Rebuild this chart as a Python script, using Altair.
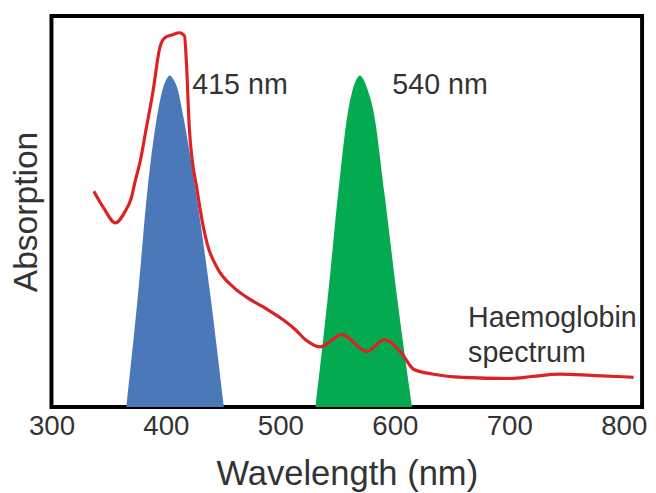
import altair as alt
import pandas as pd

# Blue band (415 nm light source)
blue_wl = [365.4, 375.7, 383.5, 392.9, 397.2, 400.5, 403.3, 406.5, 410.2, 414.5, 426.5, 438.6, 450.6]
blue_ab = [0.0, 0.291, 0.544, 0.754, 0.813, 0.838, 0.848, 0.838, 0.813, 0.754, 0.544, 0.291, 0.0]

# Green band (540 nm light source)
green_wl = [530.6, 541.8, 550.4, 559.0, 563.3, 566.5, 569.4, 572.5, 576.0, 581.5, 591.0, 601.5, 615.0]
green_ab = [0.0, 0.291, 0.544, 0.754, 0.813, 0.838, 0.848, 0.838, 0.813, 0.754, 0.544, 0.291, 0.0]

# Haemoglobin spectrum
hb_wl = [337.0, 345.6, 355.9, 364.5, 369.7, 373.1, 377.5, 382.6, 388.6, 394.7, 399.0,
         405.9, 411.9, 416.2, 417.9, 420.5, 427.4, 436.0, 444.6, 459.2, 470.4, 485.0,
         504.8, 513.4, 522.0, 534.9, 553.9, 575.4, 590.9, 605.5, 616.7, 633.9, 659.7,
         701.0, 720.0, 744.1, 771.6, 808.6]
hb_ab = [0.552, 0.509, 0.471, 0.501, 0.534, 0.577, 0.628, 0.709, 0.805, 0.919, 0.944,
         0.952, 0.957, 0.949, 0.881, 0.711, 0.552, 0.418, 0.357, 0.306, 0.281, 0.256,
         0.218, 0.197, 0.172, 0.154, 0.185, 0.142, 0.172, 0.139, 0.096, 0.084, 0.076,
         0.073, 0.078, 0.084, 0.081, 0.076]

# Annotations
ann_text = ["415 nm", "540 nm", "Haemoglobin", "spectrum"]
ann_wl = [423.0, 597.8, 664.0, 664.0]
ann_ab = [0.823, 0.823, 0.228, 0.139]

x_ticks = [300, 400, 500, 600, 700, 800]

blue_df = pd.DataFrame({"wl": blue_wl, "ab": blue_ab})
green_df = pd.DataFrame({"wl": green_wl, "ab": green_ab})
hb_df = pd.DataFrame({"wl": hb_wl, "ab": hb_ab})
ann_df = pd.DataFrame({"t": ann_text, "wl": ann_wl, "ab": ann_ab})

FONT = "Liberation Sans"
TXT = "#333333"

xscale = alt.Scale(domain=[300, 816], nice=False, zero=False)
yscale = alt.Scale(domain=[0, 1], nice=False)

xenc = alt.X(
    "wl:Q", scale=xscale,
    axis=alt.Axis(values=x_ticks, title="Wavelength (nm)", grid=False, domain=False,
                  ticks=False, labelFontSize=28, labelColor=TXT, labelFont=FONT,
                  labelPadding=6, labelFlush=False, labelOverlap=False,
                  titleFontSize=35, titleFont=FONT, titleColor=TXT,
                  titleFontWeight="normal", titleBaseline="alphabetic", titleY=78),
)
yenc = alt.Y(
    "ab:Q", scale=yscale,
    axis=alt.Axis(title="Absorption", labels=False, ticks=False, grid=False, domain=False,
                  titleFontSize=34, titleFont=FONT, titleColor=TXT,
                  titleFontWeight="normal", titlePadding=8),
)

blue = alt.Chart(blue_df).mark_area(color="#4a78b8", interpolate="monotone").encode(x=xenc, y=yenc)
green = alt.Chart(green_df).mark_area(color="#03aa50", interpolate="monotone").encode(x="wl:Q", y="ab:Q")
hb = alt.Chart(hb_df).mark_line(color="#dc2324", strokeWidth=3.2, interpolate="monotone").encode(x="wl:Q", y="ab:Q")
ann = alt.Chart(ann_df).mark_text(align="left", baseline="middle", fontSize=29, font=FONT,
                                  color=TXT).encode(x="wl:Q", y="ab:Q", text="t:N")

chart = (
    alt.layer(blue, green, hb, ann)
    .properties(width=598, height=396,
                autosize=alt.AutoSizeParams(type="none"),
                padding={"left": 44, "top": 5, "right": 6, "bottom": 86})
    .configure_view(stroke="black", strokeWidth=4)
)

chart.save("out.html", embed_options={"renderer": "svg", "actions": False})
